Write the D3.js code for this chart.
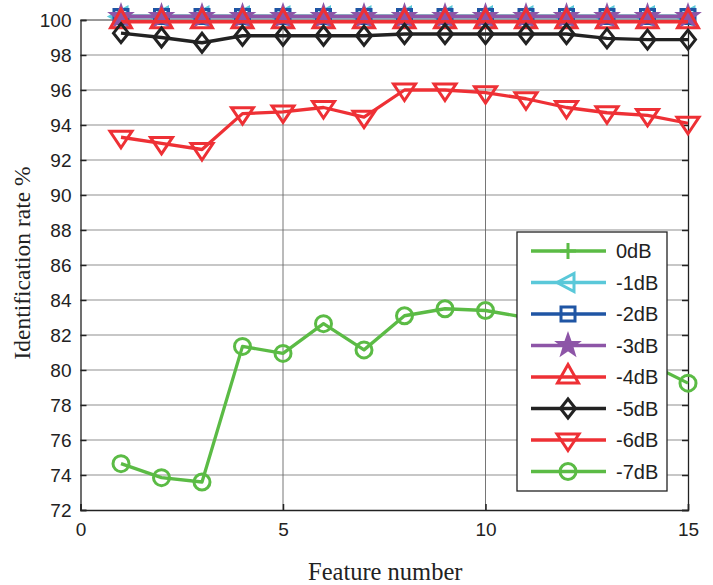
<!DOCTYPE html>
<html>
<head>
<meta charset="utf-8">
<script src="https://cdn.jsdelivr.net/npm/d3@7"></script>
<style>
  body { margin: 0; background: #fff; }
  svg text { font-family: "Liberation Sans", Arial, sans-serif; fill: #222; }
</style>
</head>
<body>
<div id="chart"></div>
<script>
// ── Data ────────────────────────────────────────────────────
const features = d3.range(1, 16);
const seriesNames = ["0dB", "-1dB", "-2dB", "-3dB", "-4dB", "-5dB", "-6dB", "-7dB"];
const rate0  = [100.2, 100.2, 100.2, 100.2, 100.2, 100.2, 100.2, 100.2, 100.2, 100.2, 100.2, 100.2, 100.2, 100.2, 100.2];
const rate1  = [100.2, 100.2, 100.2, 100.2, 100.2, 100.2, 100.2, 100.2, 100.2, 100.2, 100.2, 100.2, 100.2, 100.2, 100.2];
const rate2  = [100.2, 100.2, 100.2, 100.2, 100.2, 100.2, 100.2, 100.2, 100.2, 100.2, 100.2, 100.2, 100.2, 100.2, 100.2];
const rate3  = [100.2, 100.2, 100.2, 100.2, 100.2, 100.2, 100.2, 100.2, 100.2, 100.2, 100.2, 100.2, 100.2, 100.2, 100.2];
const rate4  = [99.9, 99.9, 99.9, 99.9, 99.9, 99.9, 99.9, 99.9, 99.9, 99.9, 99.9, 99.9, 99.9, 99.9, 99.9];
const rate5  = [99.25, 99.0, 98.7, 99.1, 99.1, 99.1, 99.1, 99.2, 99.2, 99.2, 99.2, 99.2, 98.95, 98.88, 98.88];
const rate6  = [93.3, 92.95, 92.6, 94.65, 94.75, 95.0, 94.45, 96.0, 96.0, 95.85, 95.5, 95.0, 94.7, 94.55, 94.1];
const rate7  = [74.65, 73.85, 73.6, 81.35, 80.95, 82.65, 81.15, 83.1, 83.5, 83.4, 83.0, 82.5, 81.6, 80.4, 79.25];
const allRates = [rate0, rate1, rate2, rate3, rate4, rate5, rate6, rate7];
const yTicks = d3.range(72, 101, 2);
const xTicks = [0, 5, 10, 15];

const colors  = ["#5bbb45", "#5ac8d9", "#1f55a4", "#8d55a7", "#ee3035", "#222222", "#ee3035", "#5bbb45"];
const markers = ["plus", "left", "square", "star", "up", "diamond", "down", "circle"];

// Marker path (centred on the data point, triangles on their centroid)
function markerPath(type) {
  switch (type) {
    case "plus":    return "M-8,0H8M0,-8V8";
    case "left":    return "M-11,0L6,-9L6,9Z";
    case "square":  return "M-7,-7H7V7H-7Z";
    case "up":      return "M0,-12.5L10.5,6L-10.5,6Z";
    case "down":    return "M0,10.5L11,-6L-11,-6Z";
    case "diamond": return "M0,-9.5L7.5,0L0,9.5L-7.5,0Z";
    case "circle":  return d3.arc()({ innerRadius: 0, outerRadius: 8, startAngle: 0, endAngle: 2 * Math.PI });
    case "star": {
      const pts = d3.range(10).map(i => {
        const r = i % 2 ? 4 : 10;
        const a = Math.PI * i / 5 - Math.PI / 2;
        return [r * Math.cos(a), r * Math.sin(a)];
      });
      return "M" + pts.join("L") + "Z";
    }
  }
}

const W = 713, H = 585;
const margin = { top: 20, right: 25, bottom: 75, left: 80.5 };
const iW = W - margin.left - margin.right;
const iH = H - margin.top - margin.bottom;

const svg = d3.select("#chart").append("svg")
  .attr("width", W).attr("height", H);

const g = svg.append("g")
  .attr("transform", `translate(${margin.left},${margin.top})`);

const x = d3.scaleLinear().domain([0, 15]).range([0, iW]);
const y = d3.scaleLinear().domain([72, 100]).range([iH, 0]);

// ── Grid ────────────────────────────────────────────────────
g.append("g")
  .selectAll("line").data(yTicks.slice(1, -1)).join("line")
  .attr("x1", 0).attr("x2", iW)
  .attr("y1", d => y(d)).attr("y2", d => y(d))
  .attr("stroke", "#b4b4b4").attr("stroke-width", 1.3);

g.append("g")
  .selectAll("line").data(xTicks.slice(1, -1)).join("line")
  .attr("x1", d => x(d)).attr("x2", d => x(d))
  .attr("y1", 0).attr("y2", iH)
  .attr("stroke", "#666").attr("stroke-width", 0.9);

// ── Axes (ticks inside, MATLAB style) ───────────────────────
g.append("g")
  .call(d3.axisLeft(y).tickValues(yTicks).tickSize(-6).tickPadding(9))
  .call(ax => ax.select(".domain").attr("stroke", "#222").attr("stroke-width", 1.3))
  .call(ax => ax.selectAll(".tick line").attr("stroke", "#222").attr("stroke-width", 1.5))
  .call(ax => ax.selectAll("text").attr("font-size", 19).attr("fill", "#222"));

g.append("g")
  .attr("transform", `translate(${iW},0)`)
  .call(d3.axisRight(y).tickValues(yTicks).tickSize(-6).tickFormat(""))
  .call(ax => ax.select(".domain").attr("stroke", "#222").attr("stroke-width", 1.3))
  .call(ax => ax.selectAll(".tick line").attr("stroke", "#222").attr("stroke-width", 1.5));

g.append("g")
  .attr("transform", `translate(0,${iH})`)
  .call(d3.axisBottom(x).tickValues(xTicks).tickSize(-6).tickPadding(13))
  .call(ax => ax.select(".domain").attr("stroke", "#222").attr("stroke-width", 1.3))
  .call(ax => ax.selectAll(".tick line").attr("stroke", "#222").attr("stroke-width", 1.5))
  .call(ax => ax.selectAll("text").attr("font-size", 19).attr("fill", "#222"));

g.append("line")
  .attr("x1", 0).attr("x2", iW).attr("y1", 0).attr("y2", 0)
  .attr("stroke", "#333").attr("stroke-width", 1);

// ── Axis labels ─────────────────────────────────────────────
svg.append("text")
  .attr("transform", `translate(30,${margin.top + iH / 2 - 2}) rotate(-90)`)
  .attr("text-anchor", "middle")
  .style("font-family", "'Liberation Serif', 'Times New Roman', serif")
  .attr("font-size", 23.5)
  .text("Identification rate %");

svg.append("text")
  .attr("x", margin.left + iW / 2 + 1).attr("y", 580)
  .attr("text-anchor", "middle")
  .style("font-family", "'Liberation Serif', 'Times New Roman', serif")
  .attr("font-size", 24.5)
  .text("Feature number");

// ── Series ──────────────────────────────────────────────────
const line = d3.line().x((d, i) => x(features[i])).y(d => y(d));

allRates.forEach((vals, s) => {
  const sg = g.append("g");
  sg.append("path")
    .attr("d", line(vals))
    .attr("fill", "none")
    .attr("stroke", colors[s]).attr("stroke-width", 3.3)
    .attr("stroke-linejoin", "round");
  sg.selectAll("path.m").data(vals).join("path")
    .attr("class", "m")
    .attr("transform", (d, i) => `translate(${x(features[i])},${y(d)})`)
    .attr("d", markerPath(markers[s]))
    .attr("fill", markers[s] === "star" ? colors[s] : "none")
    .attr("stroke", colors[s]).attr("stroke-width", 3)
    .attr("stroke-linejoin", "miter");
});

// ── Legend ──────────────────────────────────────────────────
const lg = svg.append("g").attr("transform", "translate(517,232)");
lg.append("rect")
  .attr("width", 150).attr("height", 259)
  .attr("fill", "#fff").attr("stroke", "#222").attr("stroke-width", 1.3);

seriesNames.forEach((name, s) => {
  const ly = 19 + s * 31.5;
  lg.append("line")
    .attr("x1", 14).attr("x2", 89).attr("y1", ly).attr("y2", ly)
    .attr("stroke", colors[s]).attr("stroke-width", 3.3);
  lg.append("path")
    .attr("transform", `translate(51,${ly})`)
    .attr("d", markerPath(markers[s]))
    .attr("fill", markers[s] === "star" ? colors[s] : "none")
    .attr("stroke", colors[s]).attr("stroke-width", 3);
  lg.append("text")
    .attr("x", 99).attr("y", ly + 7)
    .attr("font-size", 20)
    .text(name);
});
</script>
</body>
</html>
